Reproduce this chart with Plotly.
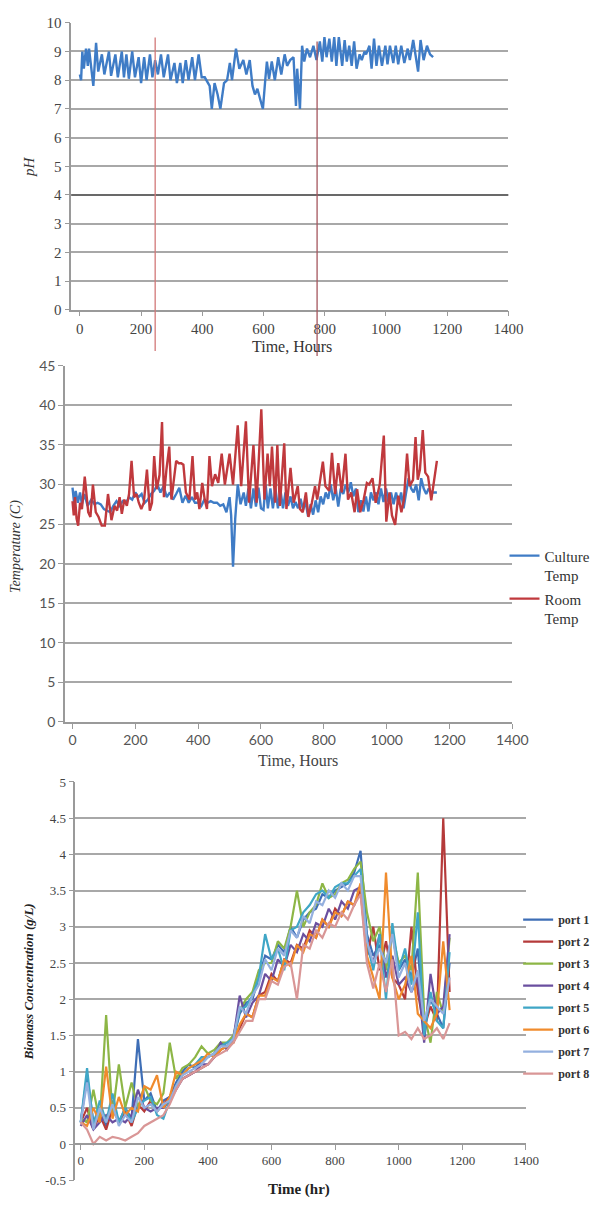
import plotly.graph_objects as go

# ---------------- Panel 1 : pH ----------------
PH_TIME = [
    0, 4, 8, 13, 20, 26, 30, 38, 44, 53,
    60, 72, 80, 95, 102, 116, 124, 137, 144, 152,
    160, 171, 180, 192, 200, 210, 218, 229, 237, 246,
    255, 265, 274, 288, 296, 309, 317, 328, 336, 346,
    355, 367, 376, 388, 398, 408, 424, 431, 440, 450,
    459, 471, 481, 490, 497, 510, 521, 534, 544, 555,
    564, 572, 580, 590, 598, 606, 611, 618, 627, 637,
    648, 658, 669, 677, 687, 698, 706, 710, 719, 726,
    733, 742, 752, 763, 773, 784, 792, 799, 806, 815,
    823, 831, 838, 846, 857, 865, 872, 880, 888, 896,
    904, 914, 921, 930, 935, 946, 953, 961, 969, 977,
    987, 998, 1005, 1013, 1024, 1032, 1040, 1050, 1060, 1071,
    1078, 1089, 1097, 1105, 1113, 1123, 1134, 1144, 1154]
PH_VALUE = [
    8.2, 8.0, 9.0, 8.4, 9.1, 8.5, 9.1, 8.3, 7.8, 9.3,
    8.3, 8.9, 8.2, 9.0, 8.15, 8.9, 8.1, 9.0, 8.1, 8.9,
    8.05, 9.0, 8.1, 8.8, 7.9, 8.8, 8.0, 8.9, 8.1, 8.7,
    8.2, 8.9, 8.1, 8.9, 8.0, 8.6, 7.9, 8.6, 7.9, 8.7,
    8.0, 8.8, 8.0, 8.9, 8.1, 8.1, 7.8, 7.0, 7.9, 7.5,
    7.0, 7.9, 8.0, 8.6, 8.0, 9.1, 8.4, 8.7, 8.2, 8.7,
    7.8, 7.5, 7.7, 7.3, 7.0, 8.05, 8.65, 8.05, 8.65, 8.0,
    8.8, 8.2, 8.9, 8.5, 8.7, 8.8, 7.1, 8.4, 7.0, 9.2,
    8.65, 9.1, 8.8, 9.2, 8.7, 9.35, 8.65, 9.5, 8.8, 9.45,
    8.65, 9.5, 8.5, 9.5, 8.5, 9.4, 8.65, 9.2, 8.5, 9.35,
    8.4, 8.9, 8.7, 9.0, 8.9, 9.2, 8.4, 9.45, 8.5, 9.2,
    8.5, 9.2, 8.55, 9.2, 8.6, 9.2, 8.55, 9.2, 8.6, 9.1,
    8.7, 9.4, 8.9, 8.3, 9.4, 8.7, 9.2, 8.9, 8.8]
PH_MARKER_HOURS = [246, 775]
PH_REFERENCE_LEVEL = 4

# ---------------- Panel 2 : temperature ----------------
CULTURE_TIME = [
    0, 5, 10, 17, 24, 30, 38, 48, 60, 70,
    80, 90, 100, 110, 120, 130, 140, 150, 160, 170,
    180, 190, 200, 210, 220, 230, 240, 250, 260, 270,
    280, 290, 300, 310, 320, 330, 340, 350, 360, 370,
    380, 390, 400, 410, 420, 430, 440, 450, 460, 470,
    480, 490, 500, 505, 511, 518, 526, 535, 545, 552,
    560, 568, 576, 584, 592, 600, 608, 615, 622, 630,
    638, 646, 654, 662, 670, 678, 686, 694, 702, 710,
    718, 726, 734, 742, 750, 758, 766, 774, 782, 790,
    798, 806, 814, 822, 830, 838, 846, 854, 862, 870,
    878, 886, 894, 902, 910, 918, 926, 934, 942, 950,
    958, 966, 974, 982, 990, 998, 1006, 1014, 1022, 1030,
    1038, 1046, 1054, 1062, 1070, 1078, 1086, 1094, 1102, 1110,
    1118, 1126, 1134, 1142, 1160]
CULTURE_TEMP = [
    29.6, 27.7, 29.2, 27.7, 29.0, 27.5, 28.8, 27.3, 28.1, 27.5,
    27.7, 27.5, 26.9, 26.7, 26.5, 27.3, 27.9, 27.3, 27.9, 27.7,
    28.4, 28.1, 29.0, 28.4, 28.8, 27.7, 28.1, 28.8, 29.2, 30.0,
    29.0, 29.8, 28.4, 29.0, 28.1, 28.8, 29.6, 27.7, 28.6, 27.7,
    28.4, 27.7, 27.7, 27.3, 28.1, 27.7, 27.9, 27.7, 27.7, 27.3,
    27.5, 26.5, 28.4, 26.1, 19.6, 25.7, 30.0, 27.5, 29.0, 27.3,
    29.5, 27.0, 29.5, 27.2, 29.6, 27.0, 26.8, 30.0, 27.0, 29.5,
    27.0, 29.5, 27.0, 29.3, 27.0, 29.0, 27.3, 28.5, 27.0, 27.8,
    27.0, 28.2, 26.8, 27.8, 26.0, 27.5, 26.2, 28.0, 26.5, 28.5,
    27.5, 29.0, 28.2, 30.0, 28.0, 29.5, 27.2, 29.5, 28.8, 30.0,
    29.0, 30.3, 28.5, 29.5, 26.5, 28.0, 26.6, 28.5, 26.6, 29.0,
    28.0, 29.0, 27.5, 29.5, 27.8, 29.5, 27.8, 29.0, 27.5, 29.0,
    27.5, 29.0, 27.0, 29.0, 30.8, 29.5, 29.0, 30.0, 28.0, 30.8,
    29.5, 28.8, 29.5, 29.0, 29.0]

ROOM_TIME = [
    0, 4, 8, 13, 18, 24, 30, 39, 50, 57,
    65, 74, 83, 93, 103, 113, 124, 134, 142, 150,
    157, 165, 173, 180, 188, 196, 204, 211, 219, 227,
    237, 246, 253, 260, 268, 277, 285, 291, 299, 308,
    315, 322, 330, 338, 346, 353, 361, 372, 382, 390,
    397, 404, 413, 421, 428, 436, 444, 454, 464, 475,
    485, 500, 511, 526, 537, 552, 562, 576, 586, 601,
    611, 621, 628, 635, 645, 652, 660, 674, 681, 694,
    704, 717, 724, 733, 743, 751, 762, 772, 779, 784,
    797, 805, 817, 826, 836, 846, 857, 869, 877, 887,
    898, 906, 916, 927, 937, 944, 955, 965, 978, 991,
    999, 1009, 1017, 1027, 1037, 1047, 1055, 1065, 1073, 1084,
    1092, 1099, 1106, 1115, 1123, 1132, 1142, 1160]
ROOM_TEMP = [
    27.9, 26.1, 28.4, 25.7, 24.8, 27.7, 26.9, 31.0, 26.5, 25.9,
    30.0, 26.5, 25.9, 24.8, 24.8, 28.8, 25.5, 27.3, 26.7, 28.4,
    26.3, 28.1, 27.3, 28.8, 33.0, 28.4, 28.8, 27.7, 26.9, 27.7,
    31.9, 26.7, 27.7, 33.6, 29.4, 31.2, 37.9, 28.4, 31.9, 34.8,
    28.1, 30.6, 33.0, 32.7, 32.7, 32.5, 29.0, 28.1, 33.6, 28.1,
    29.0, 26.9, 30.2, 28.1, 26.9, 33.6, 29.8, 31.3, 30.2, 33.9,
    30.0, 33.9, 30.0, 37.5, 29.8, 38.0, 27.7, 35.0, 27.7, 39.5,
    28.1, 33.9, 29.8, 34.8, 27.7, 35.0, 27.3, 35.2, 26.9, 32.1,
    27.7, 29.8, 26.9, 26.5, 29.0, 25.9, 27.7, 29.8, 28.1, 29.4,
    32.9, 29.8, 29.2, 34.0, 28.8, 32.7, 29.0, 33.9, 28.1, 29.0,
    26.5, 29.4, 26.5, 28.1, 30.2, 30.0, 30.8, 27.7, 30.0, 36.2,
    25.3, 29.0, 26.1, 24.9, 28.6, 26.5, 28.1, 33.9, 29.8, 30.6,
    36.0, 30.6, 31.9, 36.9, 31.5, 31.0, 28.0, 33.0]

# ---------------- Panel 3 : biomass ----------------
BIOMASS_TIME = [
    0, 20, 40, 60, 80, 100, 120, 140, 160, 180,
    200, 220, 240, 260, 280, 300, 320, 340, 360, 380,
    400, 420, 440, 460, 480, 500, 520, 540, 560, 580,
    600, 620, 640, 660, 680, 700, 720, 740, 760, 780,
    800, 820, 840, 860, 880, 900, 920, 940, 960, 980,
    1000, 1020, 1040, 1060, 1080, 1100, 1120, 1140, 1160]
PORT1 = [0.3, 0.95, 0.3, 0.5, 0.25, 0.6, 0.3, 0.5, 0.35, 1.45,
         0.6, 0.7, 0.45, 0.6, 0.65, 0.85, 1.0, 1.1, 1.05, 1.15,
         1.2, 1.25, 1.4, 1.35, 1.45, 1.8, 1.95, 2.0, 2.3, 2.6,
         2.55, 2.75, 2.65, 3.0, 2.85, 3.1, 3.2, 3.25, 3.45, 3.4,
         3.5, 3.55, 3.6, 3.75, 4.05, 2.9, 2.6, 2.75, 2.5, 2.9,
         2.4, 2.55, 2.3, 2.7, 1.6, 2.0, 1.8, 1.6, 2.5]
PORT2 = [0.3, 0.5, 0.2, 0.4, 0.2, 0.5, 0.3, 0.45, 0.25, 0.55,
         0.45, 0.6, 0.45, 0.55, 0.65, 0.8, 0.9, 0.95, 1.0, 1.05,
         1.1, 1.2, 1.3, 1.35, 1.4, 1.6, 1.8, 1.75, 2.05, 2.1,
         2.35, 2.25, 2.55, 2.5, 2.75, 2.7, 2.95, 2.85, 3.1, 3.0,
         3.25, 3.15, 3.35, 3.3, 3.5, 2.6, 3.0, 2.4, 2.8, 2.3,
         2.2, 2.0, 3.0, 2.1, 1.6, 1.9, 1.7, 4.5, 2.1]
PORT3 = [0.35, 0.3, 0.75, 0.3, 1.78, 0.4, 1.1, 0.5, 0.85, 0.5,
         0.8, 0.6, 0.55, 0.7, 1.4, 0.9, 1.05, 1.1, 1.2, 1.35,
         1.25, 1.3, 1.4, 1.4, 1.5, 1.85, 2.0, 2.1, 2.4, 2.5,
         2.5, 2.8, 2.7, 3.0, 3.5, 3.0, 3.2, 3.3, 3.6, 3.4,
         3.45, 3.6, 3.65, 3.8, 3.9, 3.2, 2.8, 3.0, 2.4, 2.9,
         2.5, 2.6, 2.4, 3.75, 1.8, 1.4, 2.1, 1.8, 2.85]
PORT4 = [0.25, 0.4, 0.2, 0.3, 0.4, 0.3, 0.35, 0.3, 0.4, 0.75,
         0.5, 0.45, 0.5, 0.5, 0.6, 0.75, 0.9, 0.95, 1.0, 1.1,
         1.1, 1.2, 1.4, 1.3, 1.45, 2.05, 1.75, 1.95, 2.05, 2.35,
         2.25, 2.55, 2.45, 2.75, 2.65, 2.9, 2.8, 3.05, 3.0, 3.25,
         3.1, 3.35, 3.25, 3.5, 3.55, 2.7, 2.5, 2.9, 2.3, 2.6,
         2.2, 2.3, 2.1, 2.3, 1.4, 2.35, 1.8, 1.9, 2.9]
PORT5 = [0.3, 1.05, 0.25, 0.6, 0.3, 0.7, 0.3, 0.5, 0.3, 0.5,
         0.6, 0.65, 0.4, 0.35, 0.6, 0.8, 0.95, 1.05, 1.1, 1.2,
         1.2, 1.25, 1.35, 1.4, 1.45, 1.85, 1.9, 2.05, 2.3, 2.9,
         2.55, 2.7, 2.4, 2.95, 3.0, 3.2, 3.3, 3.45, 3.5, 3.4,
         3.55, 3.6, 3.6, 3.7, 3.8, 2.8, 2.4, 2.9, 2.0, 3.05,
         2.4, 2.7, 2.2, 3.2, 1.5, 2.1, 1.7, 1.6, 2.65]
PORT6 = [0.3, 0.25, 0.5, 0.3, 1.07, 0.35, 0.65, 0.4, 0.5, 0.45,
         0.8, 0.75, 0.95, 0.5, 0.65, 1.0, 0.95, 1.05, 1.1, 1.15,
         1.25, 1.2, 1.3, 1.35, 1.4, 1.65, 1.8, 1.75, 2.05, 2.05,
         2.3, 2.25, 2.55, 2.45, 2.75, 2.65, 2.9, 2.85, 3.1, 3.0,
         3.2, 3.15, 3.35, 3.3, 3.6, 2.6, 2.3, 2.0, 3.75, 2.3,
         2.0, 2.2, 2.6, 1.8, 1.7, 1.6, 1.8, 2.8, 1.85]
PORT7 = [0.3, 0.85, 0.2, 0.5, 0.3, 0.55, 0.25, 0.4, 0.3, 0.65,
         0.5, 0.55, 0.45, 0.55, 0.6, 0.8, 0.95, 1.0, 1.05, 1.1,
         1.2, 1.25, 1.35, 1.35, 1.45, 1.9, 1.8, 2.05, 2.2, 2.55,
         2.4, 2.7, 2.6, 2.95, 2.85, 3.15, 3.05, 3.35, 3.3, 3.5,
         3.4, 3.6, 3.5, 3.7, 3.7, 2.8, 2.5, 2.7, 2.5, 2.9,
         2.3, 2.5, 2.1, 2.4, 1.7, 2.0, 1.9, 1.8, 2.3]
PORT8 = [0.3, 0.2, 0.0, 0.1, 0.05, 0.1, 0.08, 0.05, 0.1, 0.15,
         0.25, 0.3, 0.35, 0.4, 0.55, 0.75, 0.9, 0.95, 1.0, 1.05,
         1.1, 1.2, 1.25, 1.3, 1.4, 1.55, 1.7, 1.7, 2.0, 2.0,
         2.25, 2.2, 2.45, 2.5, 2.0, 2.75, 2.7, 2.95, 2.85, 3.05,
         3.0, 3.2, 3.1, 3.3, 3.45, 2.5, 2.15, 2.5, 2.1, 2.55,
         1.5, 1.55, 1.45, 1.6, 1.45, 1.5, 1.6, 1.45, 1.67]
PORT_NAMES = ["port 1", "port 2", "port 3", "port 4",
              "port 5", "port 6", "port 7", "port 8"]
PORT_COLORS = ["#3e6eb6", "#b53a3a", "#8db646", "#6a4f9f",
               "#3fa6c6", "#f08b2d", "#94b0df", "#d99696"]
PORT_SERIES = [PORT1, PORT2, PORT3, PORT4, PORT5, PORT6, PORT7, PORT8]

X_TICKS = [0, 200, 400, 600, 800, 1000, 1200, 1400]

W, H = 614, 1207
SERIF = "Liberation Serif"
GRID = "#a8a8a8"
AXIS = "#9a9a9a"


def py(px):
    """pixel row -> paper y"""
    return 1 - px / H


fig = go.Figure()

# Panel 1
fig.add_trace(go.Scatter(x=PH_TIME, y=PH_VALUE, mode="lines",
                         line=dict(color="#3f7cc6", width=2.4),
                         xaxis="x", yaxis="y", showlegend=False))

# Panel 2
fig.add_trace(go.Scatter(x=CULTURE_TIME, y=CULTURE_TEMP, mode="lines",
                         name="Culture<br>Temp",
                         line=dict(color="#3f7cc6", width=2.4),
                         xaxis="x2", yaxis="y2", legend="legend2",
                         legendgroup="c"))
fig.add_trace(go.Scatter(x=ROOM_TIME, y=ROOM_TEMP, mode="lines",
                         name="Room<br>Temp",
                         line=dict(color="#c0393d", width=2.4),
                         xaxis="x2", yaxis="y2", legend="legend2",
                         legendgroup="r"))

# Panel 3
for name, color, series in zip(PORT_NAMES, PORT_COLORS, PORT_SERIES):
    fig.add_trace(go.Scatter(x=BIOMASS_TIME, y=series, mode="lines",
                             name=name, line=dict(color=color, width=2.2),
                             xaxis="x3", yaxis="y3", legend="legend3",
                             legendgroup=name))

common_x = dict(tickvals=X_TICKS, showgrid=False,
                zeroline=False, showline=True, linecolor=AXIS,
                linewidth=1.5, ticks="outside", ticklen=5, tickcolor=AXIS,
                tickwidth=1.2)
common_y = dict(showgrid=True, gridcolor=GRID, gridwidth=1.5, zeroline=False,
                showline=True, linecolor=AXIS, linewidth=1.5,
                ticks="outside", ticklen=5, tickcolor=AXIS, tickwidth=1.2)

y3_range = [-0.5, 5]
y3_dom = [py(1188), py(784)]
x3_pos = y3_dom[0] + (0 - y3_range[0]) / (y3_range[1] - y3_range[0]) * (y3_dom[1] - y3_dom[0])
y3_ticks = [-0.5, 0, 0.5, 1, 1.5, 2, 2.5, 3, 3.5, 4, 4.5, 5]
y3_text = ["-0.5", "0", "0.5", "1", "1.5", "2", "2.5", "3", "3.5", "4", "4.5", "5"]

fig.update_layout(
    width=W, height=H, margin=dict(l=0, r=0, t=0, b=0),
    plot_bgcolor="white", paper_bgcolor="white",
    xaxis=dict(common_x, domain=[73.2 / W, 522 / W], anchor="y",
               range=[-28, 1400],
               tickfont=dict(family=SERIF, size=15, color="#444")),
    yaxis=dict(common_y, domain=[py(305), py(14)], anchor="x",
               range=[0, 10], dtick=1,
               tickfont=dict(family=SERIF, size=15, color="#444")),
    xaxis2=dict(common_x, domain=[66.7 / W, 526 / W], anchor="y2",
                range=[-24, 1400],
                tickfont=dict(family="Lato", size=14, color="#555")),
    yaxis2=dict(common_y, domain=[py(723), py(362)], anchor="x2",
                range=[0, 45], dtick=5,
                tickfont=dict(family="Lato", size=14, color="#555")),
    xaxis3=dict(common_x, domain=[77.3 / W, 540 / W], anchor="free",
                position=x3_pos, range=[-17, 1400],
                tickfont=dict(family=SERIF, size=13, color="#444")),
    yaxis3=dict(common_y, domain=y3_dom, anchor="x3", range=y3_range,
                tickvals=y3_ticks, ticktext=y3_text,
                tickfont=dict(family=SERIF, size=13, color="#444")),
    legend2=dict(x=518 / W, y=py(538), xanchor="left", yanchor="top",
                 bgcolor="rgba(0,0,0,0)", itemwidth=30, valign="top",
                 tracegroupgap=1,
                 font=dict(family=SERIF, size=15, color="#333")),
    legend3=dict(x=532 / W, y=py(909), xanchor="left", yanchor="top",
                 bgcolor="rgba(0,0,0,0)", itemwidth=30,
                 tracegroupgap=3,
                 font=dict(family=SERIF, size=12, color="#333",
                           weight="bold")),
)

shapes = []
# darker reference line at pH 4
shapes.append(dict(type="line", xref="x domain", yref="y",
                   x0=0, x1=1, y0=PH_REFERENCE_LEVEL, y1=PH_REFERENCE_LEVEL,
                   line=dict(color="#555555", width=1.5)))
# vertical marker lines drawn across the pH panel
marker_extent = [(py(347), py(29), "#d27878"), (py(352), py(33), "#a5565e")]
for hour, (y0, y1, col) in zip(PH_MARKER_HOURS, marker_extent):
    shapes.append(dict(type="line", xref="x", yref="paper",
                       x0=hour, x1=hour, y0=y0, y1=y1,
                       line=dict(color=col, width=1.3)))
fig.update_layout(shapes=shapes)


def label(text, x, y, size, color="#333", angle=0):
    return dict(text=text, x=x / W, y=py(y), xref="paper", yref="paper",
                xanchor="center", yanchor="middle", showarrow=False,
                textangle=angle, font=dict(family=SERIF, size=size, color=color))


annotations = [
    label("Time, Hours", 300, 342, 16),
    label("<i>pH</i>", 30, 160, 15, angle=-90),
    label("Time, Hours", 306, 762, 16, color="#444"),
    label("<i>Temperature (C)</i>", 17, 545, 14, angle=-90),
    label("<b>Time (hr)</b>", 307, 1197, 15, color="#222"),
    label("<b><i>Biomass Concentration (g/L)</i></b>", 29, 987, 13,
          color="#222", angle=-90),
]
fig.update_layout(annotations=annotations)

fig.write_html("out.html")
